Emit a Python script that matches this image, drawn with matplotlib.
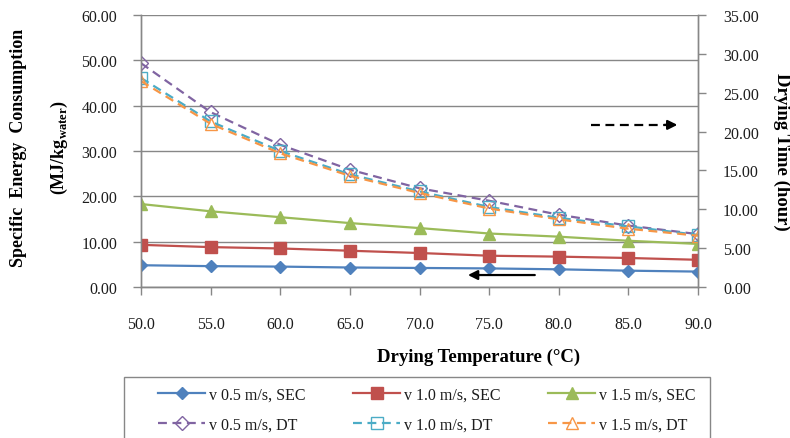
import matplotlib
matplotlib.use("Agg")
import matplotlib.pyplot as plt
from matplotlib.patches import Rectangle

plt.rcParams["font.family"] = ["Liberation Serif", "DejaVu Serif"]
plt.rcParams["mathtext.fontset"] = "custom"
plt.rcParams["mathtext.rm"] = "Liberation Serif"
plt.rcParams["mathtext.bf"] = "Liberation Serif:bold"

# Drying temperature (°C)
temperature = [50, 55, 60, 65, 70, 75, 80, 85, 90]

# Specific energy consumption (MJ/kg water), left axis
sec_v05 = [4.8, 4.6, 4.5, 4.3, 4.2, 4.1, 3.9, 3.6, 3.4]
sec_v10 = [9.3, 8.8, 8.5, 8.0, 7.5, 6.9, 6.7, 6.4, 6.0]
sec_v15 = [18.3, 16.7, 15.4, 14.1, 13.0, 11.8, 11.1, 10.2, 9.5]

# Drying time (hour), right axis
dt_v05 = [28.8, 22.5, 18.3, 15.1, 12.7, 11.1, 9.3, 7.9, 6.8]
dt_v10 = [26.9, 21.3, 17.5, 14.5, 12.3, 10.3, 8.9, 7.8, 6.7]
dt_v15 = [26.5, 21.0, 17.2, 14.3, 12.1, 10.1, 8.7, 7.5, 6.6]

x_ticks = [50, 55, 60, 65, 70, 75, 80, 85, 90]
left_ticks = [0, 10, 20, 30, 40, 50, 60]
right_ticks = [0, 5, 10, 15, 20, 25, 30, 35]

labels_sec = ["v 0.5 m/s, SEC", "v 1.0 m/s, SEC", "v 1.5 m/s, SEC"]
labels_dt = ["v 0.5 m/s, DT", "v 1.0 m/s, DT", "v 1.5 m/s, DT"]

BLUE, RED, GREEN = "#4F81BD", "#C0504D", "#9BBB59"
PURPLE, CYAN, ORANGE = "#8064A2", "#4BACC6", "#F79646"
GRID = "#878787"
TXT = "#1c1c1c"
SERIF = ["Liberation Serif", "DejaVu Serif"]

W, H = 790, 439
fig = plt.figure(figsize=(W / 100, H / 100), dpi=100)
ax = fig.add_axes([141 / W, 1 - 288 / H, 557 / W, 272 / H])
ax2 = ax.twinx()

ax.set_xlim(50, 90)
ax.set_ylim(0, 60)
ax2.set_ylim(0, 35)
ax.set_xticks(x_ticks)
ax.set_xticklabels([f"{v:.1f}" for v in x_ticks], family=SERIF)
ax.set_yticks(left_ticks)
ax.set_yticklabels([f"{v:.2f}" for v in left_ticks], family=SERIF)
ax2.set_yticks(right_ticks)
ax2.set_yticklabels([f"{v:.2f}" for v in right_ticks], family=SERIF)

ax.yaxis.grid(True, color=GRID, lw=1.0)
ax.set_axisbelow(True)
for a in (ax, ax2):
    for s in a.spines.values():
        s.set_color(GRID)
        s.set_linewidth(1.0)
    a.spines["top"].set_visible(False)
ax.tick_params(axis="x", direction="out", length=6, width=1, color=GRID,
               labelsize=11.5, labelcolor=TXT, pad=15)
ax.tick_params(axis="y", direction="out", length=6, width=1, color=GRID,
               labelsize=11.5, labelcolor=TXT, pad=11)
ax2.tick_params(axis="y", direction="out", length=6, width=1, color=GRID,
                labelsize=11.5, labelcolor=TXT, pad=12)

lw = 1.6
h1, = ax.plot(temperature, sec_v05, color=BLUE, lw=lw, marker="D", ms=6,
              mfc=BLUE, mec=BLUE, label=labels_sec[0], zorder=3)
h2, = ax.plot(temperature, sec_v10, color=RED, lw=lw, marker="s", ms=8,
              mfc=RED, mec=RED, label=labels_sec[1], zorder=3)
h3, = ax.plot(temperature, sec_v15, color=GREEN, lw=lw, marker="^", ms=9,
              mfc=GREEN, mec=GREEN, label=labels_sec[2], zorder=3)

dash = (0, (4, 2.5))
h4, = ax2.plot(temperature, dt_v05, color=PURPLE, lw=lw, ls=dash, marker="D",
               ms=7, mfc="none", mec=PURPLE, mew=1.0, label=labels_dt[0])
h5, = ax2.plot(temperature, dt_v10, color=CYAN, lw=lw, ls=dash, marker="s",
               ms=9, mfc="none", mec=CYAN, mew=1.0, label=labels_dt[1])
h6, = ax2.plot(temperature, dt_v15, color=ORANGE, lw=lw, ls=dash, marker="^",
               ms=9, mfc="none", mec=ORANGE, mew=1.0, label=labels_dt[2])

# Direction arrows pointing to the axis each series group belongs to
ax2.plot([0.808, 0.945], [0.596, 0.596], transform=ax2.transAxes,
         color="black", lw=1.6, ls=(0, (4, 2.5)))
ax2.annotate("", xy=(0.963, 0.596), xytext=(0.94, 0.596),
             xycoords="axes fraction", textcoords="axes fraction",
             arrowprops=dict(arrowstyle="-|>", color="black", lw=1.6,
                             mutation_scale=14, shrinkA=0, shrinkB=0))
ax2.annotate("", xy=(0.587, 0.044), xytext=(0.707, 0.044),
             xycoords="axes fraction", textcoords="axes fraction",
             arrowprops=dict(arrowstyle="-|>", color="black", lw=1.6,
                             mutation_scale=14, shrinkA=0, shrinkB=0))

fig.text(479 / W, 1 - 357 / H, "Drying Temperature (°C)", ha="center",
         va="center", fontsize=13.5, fontweight="bold", color="black")
fig.text(19 / W, 1 - 148 / H, "Specific  Energy  Consumption",
         rotation=90, ha="center", va="center", fontsize=13,
         fontweight="bold", color="black")
fig.text(59 / W, 1 - 148 / H, r"(MJ/kg$_{\mathbf{water}}$)",
         rotation=90, ha="center", va="center", fontsize=13,
         fontweight="bold", color="black")
fig.text(782 / W, 1 - 152 / H, "Drying Time (hour)", rotation=-90,
         ha="center", va="center", fontsize=13.5, fontweight="bold",
         color="black")

# Legend: outer frame plus one two-row column per air velocity
fig.patches.append(Rectangle((124 / W, -0.05), 586 / W, 1 - 378 / H + 0.05,
                             transform=fig.transFigure, fill=False,
                             edgecolor=GRID, lw=1.0))
col_x = [158, 353, 548]
for i, (hs, hd) in enumerate([(h1, h4), (h2, h5), (h3, h6)]):
    leg = fig.legend([hs, hd], [labels_sec[i], labels_dt[i]],
                     loc="upper left",
                     bbox_to_anchor=(col_x[i] / W, 1 - 388 / H),
                     fontsize=11.5, handlelength=2.95, handletextpad=0.22,
                     labelspacing=0.85, borderpad=0, borderaxespad=0,
                     frameon=False)
    for t in leg.get_texts():
        t.set_color(TXT)

fig.savefig("out.png", dpi=100)
